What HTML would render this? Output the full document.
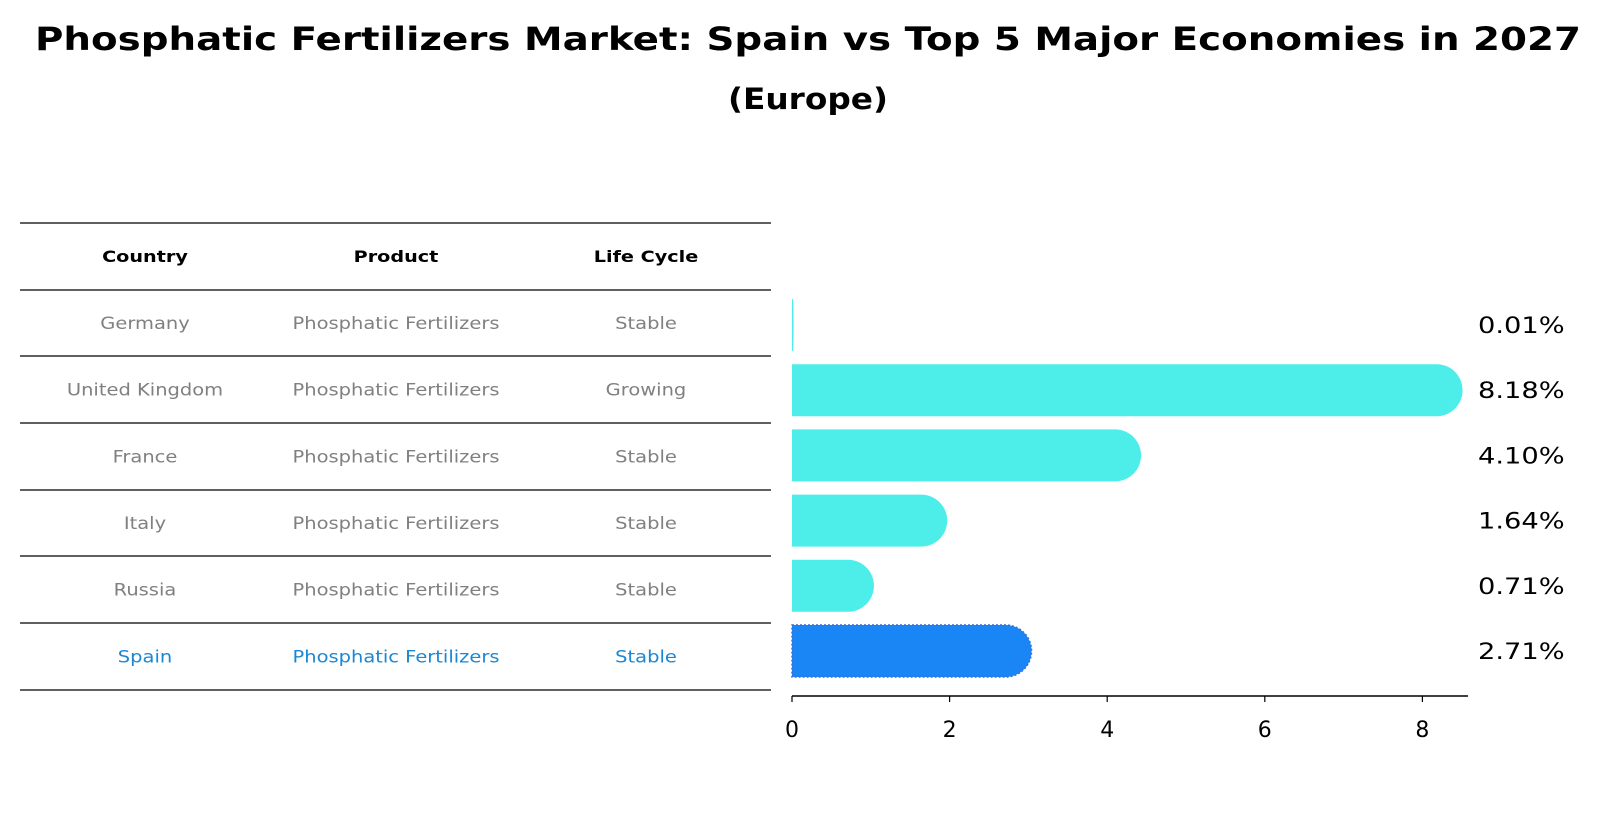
<!DOCTYPE html>
<html><head><meta charset="utf-8">
<style>
body{margin:0;background:#fff;}
svg{display:block;font-family:"DejaVu Sans","Liberation Sans",sans-serif;}
</style></head>
<body>
<svg id="svg" width="1601" height="823" viewBox="0 0 1601 823">
<text x="808" y="50" text-anchor="middle" font-size="32" font-weight="bold" textLength="1546" lengthAdjust="spacingAndGlyphs">Phosphatic Fertilizers Market: Spain vs Top 5 Major Economies in 2027</text>
<text x="808" y="109" text-anchor="middle" font-size="29" font-weight="bold" textLength="160" lengthAdjust="spacingAndGlyphs">(Europe)</text>
<g id="table"></g>
<g id="bars"></g>
</svg>
<script>
const countries=["Germany","United Kingdom","France","Italy","Russia","Spain"];
const products=["Phosphatic Fertilizers","Phosphatic Fertilizers","Phosphatic Fertilizers","Phosphatic Fertilizers","Phosphatic Fertilizers","Phosphatic Fertilizers"];
const lifeCycles=["Stable","Growing","Stable","Stable","Stable","Stable"];
const growth=[0.01,8.18,4.10,1.64,0.71,2.71];
const xTicks=[0,2,4,6,8];

const NS="http://www.w3.org/2000/svg";
function mk(tag,attrs,parent){const e=document.createElementNS(NS,tag);for(const k in attrs)e.setAttribute(k,attrs[k]);parent.appendChild(e);return e;}
function stretch(t,k){const L=t.getComputedTextLength();if(L>0){t.setAttribute('textLength',(L*k).toFixed(1));t.setAttribute('lengthAdjust','spacingAndGlyphs');}}
const tbl=document.getElementById('table');
const lineYs=[223,290,356,423,490,556,623,690];
const colX=[145,396,646];
lineYs.forEach((y,i)=>{
  const l=mk('line',{x1:20,x2:771,y1:y,y2:y,stroke:'#000','stroke-width':1.2},tbl);
  
  
});
["Country","Product","Life Cycle"].forEach((h,i)=>{
  const t=mk('text',{x:colX[i],y:262,'text-anchor':'middle','font-size':16,'font-weight':'bold',fill:'#000'},tbl);
  t.textContent=h;
  
  
  stretch(t,1.2);
});
function rowY(i){return (lineYs[i+1]+lineYs[i+2])/2+6;}
countries.forEach((c,i)=>{
  const col=i===countries.length-1?'#1a87d4':'#808080';
  [c,products[i],lifeCycles[i]].forEach((v,j)=>{
    const t=mk('text',{x:colX[j],y:rowY(i),'text-anchor':'middle','font-size':16.5,fill:col},tbl);
    t.textContent=v;
    
    
    stretch(t,1.18);
  });
});

const bars=document.getElementById('bars');
const x0=792,pxPerUnit=78.8;
function xs(v){return x0+v*pxPerUnit;}
function yc(i){return 325+i*65.2;}
const bh=52,R=26;
growth.forEach((v,i)=>{
  const w=xs(v)-x0, r=Math.min(R,w), cy=yc(i), top=cy-bh/2, bot=cy+bh/2;
  const spain=i===growth.length-1;
  const d=`M${x0},${top} H${x0+w} A${r},${R} 0 0 1 ${x0+w},${bot} H${x0} Z`;
  const p=mk('path',{d:d,fill:spain?'#1a85f5':'#4deeea',stroke:spain?'#3a6fd0':'none','stroke-width':spain?1.5:0,'stroke-dasharray':spain?'2,2':'none'},bars);
  
  
  const t=mk('text',{x:1478,y:cy+8,'font-size':22,fill:'#000'},bars);
  t.textContent=v.toFixed(2)+'%';
  
  
  stretch(t,1.24);
});
const ax=mk('line',{x1:x0,x2:1468,y1:696,y2:696,stroke:'#000','stroke-width':1.5},bars);


xTicks.forEach(v=>{
  const tk=mk('line',{x1:xs(v),x2:xs(v),y1:696,y2:702,stroke:'#000','stroke-width':1.2},bars);
  
  
  const t=mk('text',{x:xs(v),y:737,'text-anchor':'middle','font-size':22,fill:'#000'},bars);
  t.textContent=v;
  
  
});
</script>
</body></html>
